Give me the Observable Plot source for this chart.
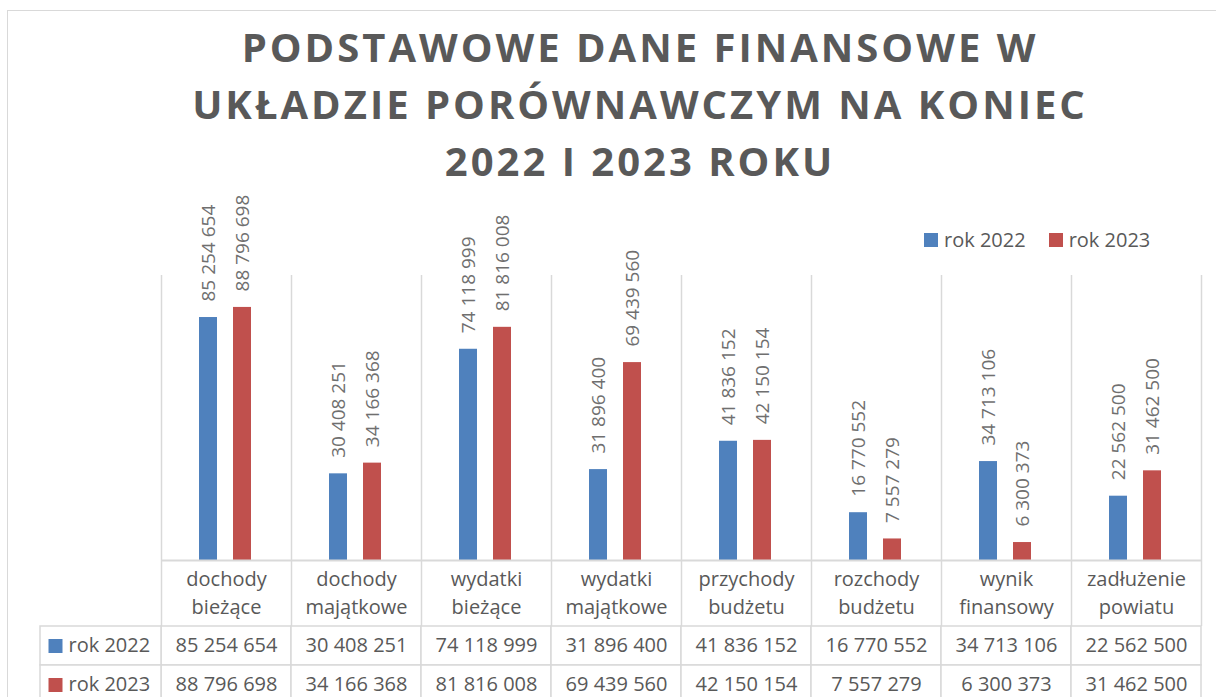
<!DOCTYPE html>
<html lang="pl">
<head>
<meta charset="utf-8">
<script src="https://cdn.jsdelivr.net/npm/d3@7"></script>
<script src="https://cdn.jsdelivr.net/npm/@observablehq/plot@0.6"></script>
<style>
  html, body { margin: 0; padding: 0; background: #fff; width: 1216px; height: 697px; overflow: hidden; font-family: "Open Sans", sans-serif; }
  #frame { position: absolute; left: 7px; top: 10px; width: 1400px; height: 900px; border-left: 1.5px solid #D9D9D9; border-top: 1.5px solid #D9D9D9; box-sizing: border-box; }
  #title { position: absolute; left: 0; top: 18px; width: 1280px; text-align: center; font-weight: 700; font-size: 40px; line-height: 57px; letter-spacing: 3px; color: #595959; }
  #legend { position: absolute; left: 924px; top: 226px; display: flex; align-items: center; font-size: 20px; line-height: 28px; color: #595959; }
  #legend .item { display: flex; align-items: center; margin-right: 23px; }
  #legend .sw { width: 14px; height: 14px; margin-right: 6px; }
  #chart { position: absolute; left: 0; top: 190px; }
  #table { position: absolute; left: 0; top: 625px; }
</style>
</head>
<body>
<div id="frame"></div>
<div id="title"></div>
<div id="legend"></div>
<div id="chart"></div>
<div id="table"></div>
<script>
const titleLines = ["PODSTAWOWE DANE FINANSOWE W", "UKŁADZIE PORÓWNAWCZYM NA KONIEC", "2022 I 2023 ROKU"];
const categories = ["dochody\nbieżące", "dochody\nmajątkowe", "wydatki\nbieżące", "wydatki\nmajątkowe", "przychody\nbudżetu", "rozchody\nbudżetu", "wynik\nfinansowy", "zadłużenie\npowiatu"];
const series = ["rok 2022", "rok 2023"];
const values2022 = [85254654, 30408251, 74118999, 31896400, 41836152, 16770552, 34713106, 22562500];
const values2023 = [88796698, 34166368, 81816008, 69439560, 42150154, 7557279, 6300373, 31462500];
const seriesColors = ["#4F81BD", "#C0504D"];
const yMax = 100000000;

const fmt = d3.formatLocale({decimal: ",", thousands: "\u00a0", grouping: [3], currency: ["", ""]}).format(",d");

const rows = [];
categories.forEach((c, i) => {
  rows.push({category: c, series: series[0], value: values2022[i]});
  rows.push({category: c, series: series[1], value: values2023[i]});
});

// title
const titleEl = document.getElementById("title");
titleLines.forEach(t => { const d = document.createElement("div"); d.textContent = t; titleEl.appendChild(d); });

// legend
const legendEl = document.getElementById("legend");
series.forEach((s, i) => {
  const it = document.createElement("div"); it.className = "item";
  const sw = document.createElement("div"); sw.className = "sw"; sw.style.background = seriesColors[i];
  const tx = document.createElement("span"); tx.textContent = s;
  it.appendChild(sw); it.appendChild(tx); legendEl.appendChild(it);
});

const grid = "#D9D9D9";
const textCol = "#595959";
const W = 1216;
const mL = 161, mR = 15;
const band = (W - mL - mR) / categories.length;
const bySeries = s => rows.filter(d => d.series === s);

const chart = Plot.plot({
  width: W,
  height: 436,
  marginLeft: mL,
  marginRight: mR,
  marginTop: 85,
  marginBottom: 0,
  style: {fontFamily: "Open Sans", fontSize: "20px", color: textCol, background: "transparent", overflow: "visible"},
  x: {type: "band", domain: categories, padding: 0, axis: null},
  y: {domain: [0, yMax], range: [370, 85], axis: null},
  color: {domain: series, range: seriesColors},
  marks: [
    Plot.ruleX(categories, {x: d => d, dx: -band / 2, stroke: grid, strokeWidth: 1.5}),
    Plot.ruleX(categories.slice(-1), {x: d => d, dx: band / 2, stroke: grid, strokeWidth: 1.5}),
    Plot.barY(bySeries(series[0]), {x: "category", y: "value", fill: "series", insetLeft: 38, insetRight: 74}),
    Plot.barY(bySeries(series[1]), {x: "category", y: "value", fill: "series", insetLeft: 72, insetRight: 40}),
    Plot.ruleY([0], {stroke: grid, strokeWidth: 2}),
    Plot.text(bySeries(series[0]), {x: "category", y: "value", text: d => fmt(d.value), rotate: -90, textAnchor: "start", dx: -18, dy: -16, fontSize: 19, fill: "#6f6f6f"}),
    Plot.text(bySeries(series[1]), {x: "category", y: "value", text: d => fmt(d.value), rotate: -90, textAnchor: "start", dx: 16, dy: -16, fontSize: 19, fill: "#6f6f6f"}),
    Plot.text(categories, {x: d => d, text: d => d, frameAnchor: "bottom", lineAnchor: "middle", lineHeight: 1.4, dy: -35, fontSize: 20, fill: textCol})
  ]
});
document.getElementById("chart").appendChild(chart);

const keyCol = "klucz";
const table = Plot.plot({
  width: W,
  height: 80,
  marginLeft: mL - band,
  marginRight: mR,
  marginTop: 1,
  marginBottom: 1,
  style: {fontFamily: "Open Sans", fontSize: "20px", color: textCol, background: "transparent", overflow: "visible"},
  x: {type: "band", domain: [keyCol, ...categories], padding: 0, axis: null},
  y: {type: "band", domain: series, padding: 0, axis: null},
  color: {domain: series, range: seriesColors},
  marks: [
    Plot.cell(rows, {x: "category", y: "series", fill: "white", stroke: grid, strokeWidth: 1.5}),
    Plot.cell(series, {x: () => keyCol, y: d => d, fill: "white", stroke: grid, strokeWidth: 1.5, insetLeft: 9}),
    Plot.text(rows, {x: "category", y: "series", text: d => fmt(d.value), fontSize: 20, fill: textCol}),
    Plot.dot(series, {x: () => keyCol, y: d => d, symbol: "square", r: 7.9, fill: d => d, dx: -41}),
    Plot.text(series, {x: () => keyCol, y: d => d, text: d => d, textAnchor: "start", dx: -28, fontSize: 20, fill: textCol})
  ]
});
document.getElementById("table").appendChild(table);
</script>
</body>
</html>
